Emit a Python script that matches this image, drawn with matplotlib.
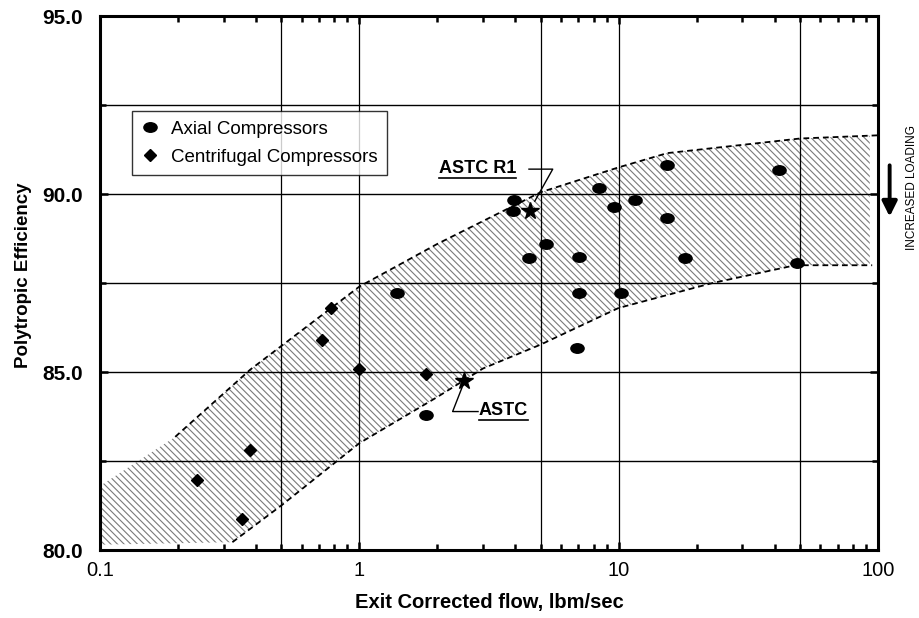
import numpy as np
import matplotlib
matplotlib.use("Agg")
import matplotlib.pyplot as plt
from matplotlib.path import Path
from matplotlib.transforms import Affine2D
from matplotlib.lines import Line2D
from matplotlib.ticker import FixedLocator, LogLocator, NullFormatter

plt.rcParams['font.family'] = ['Liberation Sans', 'DejaVu Sans']
plt.rcParams['hatch.linewidth'] = 0.8

# Exit corrected flow (lbm/sec) vs polytropic efficiency
axial_flow = [1.40, 1.81, 3.94, 3.90, 4.50, 5.24, 7.03, 7.03, 6.89, 8.40,
              9.57, 10.2, 11.6, 15.3, 15.4, 18.1, 41.4, 48.6]
axial_eff = [87.21, 83.78, 89.84, 89.52, 88.20, 88.60, 88.22, 87.23, 85.68, 90.18,
             89.63, 87.23, 89.82, 89.33, 90.81, 88.20, 90.67, 88.05]

centrif_flow = [0.237, 0.354, 0.38, 0.716, 0.78, 1.0, 1.81]
centrif_eff = [81.96, 80.88, 82.82, 85.90, 86.81, 85.09, 84.94]

astc_flow, astc_eff = 2.54, 84.74
astc_r1_flow, astc_r1_eff = 4.56, 89.52

# band of attainable efficiency
upper_x = [0.195, 0.38, 0.5, 1.0, 2.0, 5.0, 10.0, 15.4, 50.0, 100.0]
upper_y = [83.18, 85.07, 85.73, 87.40, 88.60, 90.05, 90.75, 91.15, 91.56, 91.65]
lower_x = [0.324, 0.5, 1.0, 2.0, 3.0, 5.0, 10.0, 23.0, 48.0, 95.0]
lower_y = [80.22, 81.25, 83.00, 84.30, 85.10, 85.77, 86.80, 87.50, 88.00, 88.00]
band_left_x = 0.1
band_left_y = (80.15, 81.8)
band_right_x = 93.0

grid_x = [0.5, 1, 5, 10, 50]
grid_y = [82.5, 85, 87.5, 90, 92.5]

fig = plt.figure(figsize=(9.2, 6.18), dpi=100)
ax = fig.add_axes([0.1087, 0.110, 0.8456, 0.864])
ax.set_xscale('log')
ax.set_xlim(0.1, 100)
ax.set_ylim(80, 95)

# hatched band
lx = np.array(lower_x); ly = np.array(lower_y)
ux = np.array(upper_x); uy = np.array(upper_y)
keep_l = lx < band_right_x
keep_u = ux < band_right_x
poly_x = np.concatenate([[band_left_x], lx[keep_l], [band_right_x, band_right_x],
                         ux[keep_u][::-1], [band_left_x]])
poly_y = np.concatenate([[band_left_y[0]], ly[keep_l],
                         [np.interp(np.log10(band_right_x), np.log10(lx), ly),
                          np.interp(np.log10(band_right_x), np.log10(ux), uy)],
                         uy[keep_u][::-1], [band_left_y[1]]])
ax.fill(poly_x, poly_y, facecolor='none', edgecolor='#7a7a7a', hatch='\\\\\\\\\\',
        linewidth=0, zorder=1)

dash = (0, (3.2, 2.2))
ax.plot(upper_x, upper_y, color='black', lw=1.3, linestyle=dash, zorder=3)
ax.plot(lower_x, lower_y, color='black', lw=1.3, linestyle=dash, zorder=3)

for gx in grid_x:
    ax.axvline(gx, color='black', lw=0.9, zorder=2)
for gy in grid_y:
    ax.axhline(gy, color='black', lw=1.0, zorder=2)

ellipse = Path.unit_circle().transformed(Affine2D().scale(1.0, 0.72))
ax.plot(axial_flow, axial_eff, linestyle='none', marker=ellipse, ms=9.5,
        color='black', zorder=5, label='Axial Compressors')
ax.plot(centrif_flow, centrif_eff, linestyle='none', marker='D', ms=6.5,
        color='black', zorder=5, label='Centrifugal Compressors')
ax.plot([astc_flow, astc_r1_flow], [astc_eff, astc_r1_eff], linestyle='none',
        marker='*', ms=13, color='black', zorder=6)

# axes styling
for s in ax.spines.values():
    s.set_linewidth(2.2)
ax.xaxis.set_major_locator(FixedLocator([0.1, 1, 10, 100]))
ax.xaxis.set_minor_locator(LogLocator(base=10, subs=np.arange(2, 10)))
ax.xaxis.set_minor_formatter(NullFormatter())
ax.set_xticklabels(['0.1', '1', '10', '100'])
ax.yaxis.set_major_locator(FixedLocator([80, 85, 90, 95]))
ax.yaxis.set_minor_locator(FixedLocator([82.5, 87.5, 92.5]))
ax.set_yticklabels(['80.0', '85.0', '90.0', '95.0'], fontweight='bold')
ax.tick_params(which='both', direction='in', top=True, right=True, width=1.8)
ax.tick_params(which='major', length=6)
ax.tick_params(which='minor', length=4)
ax.tick_params(axis='x', which='major', labelsize=14.5, pad=8)
ax.tick_params(axis='y', which='major', labelsize=15, pad=12)

ax.set_xlabel('Exit Corrected flow, lbm/sec', fontsize=14.5, fontweight='bold',
              labelpad=9)
ax.set_ylabel('Polytropic Efficiency', fontsize=13.5, fontweight='bold')
ax.yaxis.set_label_coords(-0.087, 0.515)

leg = ax.legend(loc='upper left', bbox_to_anchor=(0.041, 0.822), borderaxespad=0,
                fontsize=13.5, frameon=True, fancybox=False, handlelength=0.9,
                handletextpad=0.7, labelspacing=0.6, borderpad=0.5)
leg.get_frame().set_edgecolor('black')
leg.get_frame().set_linewidth(1.0)
leg.set_zorder(10)

# annotations with leader lines
t_r1 = ax.text(2.03, 90.73, 'ASTC R1', fontsize=13, fontweight='bold',
               ha='left', va='center', zorder=7)
ax.plot([4.51, 5.57, 4.75], [90.70, 90.70, 89.80], color='black', lw=1.0, zorder=7)

t_astc = ax.text(2.89, 83.93, 'ASTC', fontsize=13, fontweight='bold',
                 ha='left', va='center', zorder=7)
ax.plot([2.50, 2.29, 2.87], [84.60, 83.89, 83.89], color='black', lw=1.0, zorder=7)

fig.canvas.draw()
renderer = fig.canvas.get_renderer()
inv = ax.transData.inverted()
for t in (t_r1, t_astc):
    bb = t.get_window_extent(renderer)
    (x0, y0), (x1, _) = inv.transform([(bb.x0, bb.y0 - 1), (bb.x1, bb.y0 - 1)])
    ax.add_line(Line2D([x0, x1], [y0, y0], color='black', lw=1.2, zorder=7))

# loading arrow at right edge
ax.annotate('', xy=(0.967, 0.645), xytext=(0.967, 0.737),
            xycoords='figure fraction', textcoords='figure fraction',
            arrowprops=dict(arrowstyle='-|>,head_width=0.45,head_length=0.9',
                            color='black', lw=2.8))
fig.text(0.991, 0.697, 'INCREASED LOADING', rotation=90, fontsize=8.5,
         ha='center', va='center')

fig.savefig('out.png', dpi=100)
